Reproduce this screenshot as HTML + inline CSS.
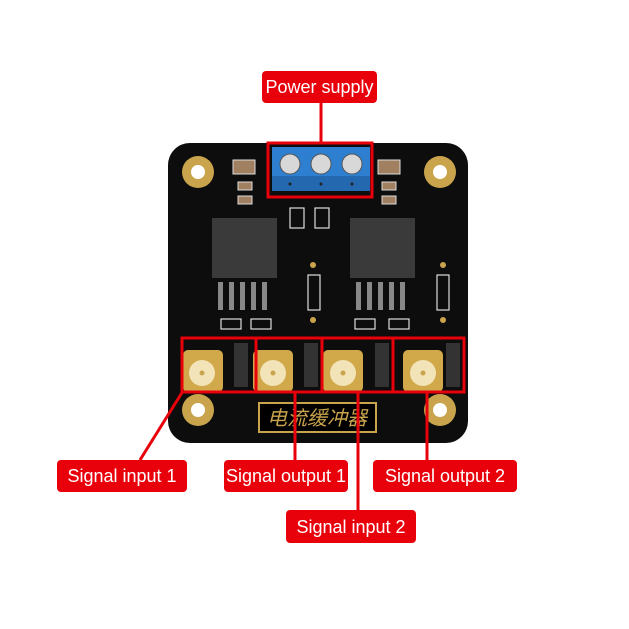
<!DOCTYPE html>
<html><head><meta charset="utf-8"><style>
html,body{margin:0;padding:0;background:#fff;}
svg{display:block}
text{font-family:"Liberation Sans","Noto Sans CJK SC",sans-serif}
</style></head><body>
<svg width="629" height="629" viewBox="0 0 629 629" xmlns="http://www.w3.org/2000/svg">
<rect width="629" height="629" fill="#fff"/>
<!-- board -->
<rect x="168" y="143" width="300" height="300" rx="22" fill="#0d0d0d"/>
<!-- mounting holes -->
<g fill="#c9a44c">
<circle cx="198" cy="172" r="16"/><circle cx="440" cy="172" r="16"/>
<circle cx="198" cy="410" r="16"/><circle cx="440" cy="410" r="16"/>
</g>
<g fill="#fff">
<circle cx="198" cy="172" r="7"/><circle cx="440" cy="172" r="7"/>
<circle cx="198" cy="410" r="7"/><circle cx="440" cy="410" r="7"/>
</g>
<!-- terminal block -->
<rect x="272" y="147" width="98" height="44" fill="#2f7fd0"/>
<rect x="272" y="176" width="98" height="15" fill="#2468b0"/>
<g fill="#d8d8d8" stroke="#555" stroke-width="1">
<circle cx="290" cy="164" r="10"/><circle cx="321" cy="164" r="10"/><circle cx="352" cy="164" r="10"/>
</g>
<g fill="#222"><circle cx="290" cy="184" r="1.5"/><circle cx="321" cy="184" r="1.5"/><circle cx="352" cy="184" r="1.5"/></g>
<!-- caps -->
<g fill="#a08060" stroke="#ddd" stroke-width="1">
<rect x="233" y="160" width="22" height="14"/><rect x="378" y="160" width="22" height="14"/>
<rect x="238" y="182" width="14" height="8"/><rect x="238" y="196" width="14" height="8"/>
<rect x="382" y="182" width="14" height="8"/><rect x="382" y="196" width="14" height="8"/>
</g>
<!-- chips -->
<rect x="212" y="218" width="65" height="60" fill="#3a3a3a"/>
<rect x="350" y="218" width="65" height="60" fill="#3a3a3a"/>
<g fill="#888">
<rect x="218" y="282" width="5" height="28"/><rect x="229" y="282" width="5" height="28"/><rect x="240" y="282" width="5" height="28"/><rect x="251" y="282" width="5" height="28"/><rect x="262" y="282" width="5" height="28"/>
<rect x="356" y="282" width="5" height="28"/><rect x="367" y="282" width="5" height="28"/><rect x="378" y="282" width="5" height="28"/><rect x="389" y="282" width="5" height="28"/><rect x="400" y="282" width="5" height="28"/>
</g>
<g fill="none" stroke="#ddd" stroke-width="1.2">
<rect x="308" y="275" width="12" height="35"/><rect x="437" y="275" width="12" height="35"/>
<rect x="221" y="319" width="20" height="10"/><rect x="251" y="319" width="20" height="10"/>
<rect x="355" y="319" width="20" height="10"/><rect x="389" y="319" width="20" height="10"/>
<rect x="290" y="208" width="14" height="20"/><rect x="315" y="208" width="14" height="20"/>
</g>
<g fill="#c9a44c"><circle cx="313" cy="265" r="3"/><circle cx="313" cy="320" r="3"/><circle cx="443" cy="265" r="3"/><circle cx="443" cy="320" r="3"/></g>
<!-- SMA connectors -->
<g fill="#d1a94a">
<rect x="183" y="350" width="40" height="42" rx="5"/><rect x="253" y="350" width="40" height="42" rx="5"/>
<rect x="323" y="350" width="40" height="42" rx="5"/><rect x="403" y="350" width="40" height="42" rx="5"/>
</g>
<g fill="#f3e3b8"><circle cx="202" cy="373" r="13"/><circle cx="273" cy="373" r="13"/><circle cx="343" cy="373" r="13"/><circle cx="423" cy="373" r="13"/></g>
<g fill="#c9a44c"><circle cx="202" cy="373" r="2.5"/><circle cx="273" cy="373" r="2.5"/><circle cx="343" cy="373" r="2.5"/><circle cx="423" cy="373" r="2.5"/></g>
<g fill="#333"><rect x="234" y="343" width="14" height="44"/><rect x="304" y="343" width="14" height="44"/><rect x="375" y="343" width="14" height="44"/><rect x="446" y="343" width="14" height="44"/></g>
<!-- label plate -->
<rect x="259" y="403" width="117" height="29" fill="#000" stroke="#c9a44c" stroke-width="2"/>
<text x="317" y="425" text-anchor="middle" font-size="20" font-style="italic" fill="#c9a44c">电流缓冲器</text>
<!-- red boxes -->
<g fill="none" stroke="#e8000b" stroke-width="3">
<rect x="268" y="143" width="104" height="54"/>
<rect x="182" y="338" width="282" height="54"/>
<line x1="256" y1="338" x2="256" y2="392"/><line x1="322" y1="338" x2="322" y2="392"/><line x1="393" y1="338" x2="393" y2="392"/>
<line x1="321" y1="103" x2="321" y2="143"/>
<line x1="140" y1="460" x2="183" y2="391"/>
<line x1="295" y1="392" x2="295" y2="460"/>
<line x1="358" y1="392" x2="358" y2="510"/>
<line x1="427" y1="392" x2="427" y2="460"/>
</g>
<!-- labels -->
<g fill="#e8000b">
<rect x="262" y="71" width="115" height="32" rx="4"/>
<rect x="57" y="460" width="130" height="32" rx="4"/>
<rect x="224" y="460" width="124" height="32" rx="4"/>
<rect x="373" y="460" width="144" height="32" rx="4"/>
<rect x="286" y="510" width="130" height="33" rx="4"/>
</g>
<g fill="#fff" font-size="18" text-anchor="middle">
<text x="319.5" y="93">Power supply</text>
<text x="122" y="482">Signal input 1</text>
<text x="286" y="482">Signal output 1</text>
<text x="445" y="482">Signal output 2</text>
<text x="351" y="533">Signal input 2</text>
</g>
</svg>
</body></html>
